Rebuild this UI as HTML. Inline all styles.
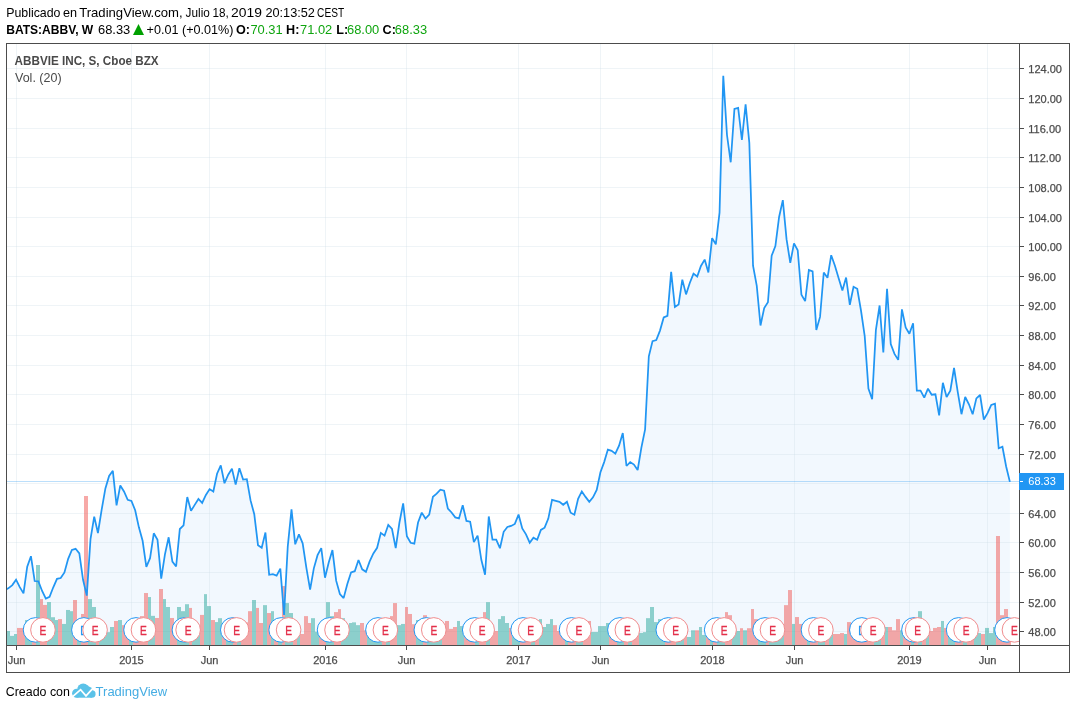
<!DOCTYPE html>
<html><head><meta charset="utf-8"><title>ABBV chart</title>
<style>
html,body{margin:0;padding:0;background:#fff;}
body{width:1076px;height:709px;position:relative;overflow:hidden;font-family:"Liberation Sans",sans-serif;}
svg{display:block}
</style></head><body>
<svg width="1076" height="709" viewBox="0 0 1076 709" style="position:absolute;left:0;top:0">
<defs><clipPath id="pane"><rect x="7" y="44" width="1012" height="601"/></clipPath></defs>
<g clip-path="url(#pane)">
<polygon points="4.89,645 4.89,590 8.61,588.1 12.33,585.1 16.06,579.7 19.78,587.07 23.5,593.4 27.22,566.7 30.94,556.2 34.67,581 38.39,581.4 42.11,591 45.83,598.6 49.56,596.8 53.28,587.28 57,578.8 60.72,578 64.44,572.5 68.17,558.84 71.89,550 75.61,548.8 79.33,553.4 83.05,579.8 86.78,595.6 90.5,539.1 94.22,516.6 97.94,533 101.67,509.67 105.39,488.4 109.11,476 112.83,470.8 116.55,505.3 120.28,485.5 124,491.5 127.72,499.8 131.44,501 135.17,510.2 138.89,527.35 142.61,540.8 146.33,566.9 150.05,558.2 153.78,533.3 157.5,539.8 161.22,578.7 164.94,554.34 168.66,537.3 172.39,561.6 176.11,566.5 179.83,529 183.55,525.4 187.28,497 191,510.8 194.72,504.9 198.44,499 202.16,502.9 205.89,495 209.61,489.1 213.33,491.5 217.05,473.7 220.77,465.4 224.5,483.2 228.22,474.7 231.94,468.8 235.66,484.6 239.39,468.2 243.11,479.6 246.83,479.2 250.55,500.4 254.27,514.2 258,545.2 261.72,547.7 265.44,532.5 269.16,574.8 272.89,574.2 276.61,575.6 280.33,568.6 284.05,615 287.77,546.3 291.5,509.4 295.22,544.3 298.94,534.4 302.66,543.3 306.38,567.99 310.11,589.7 313.83,568.32 317.55,555.2 321.27,548.2 325,577.7 328.72,562.43 332.44,550.1 336.16,580.7 339.88,594.1 343.61,598.1 347.33,584.11 351.05,572.4 354.77,571.2 358.49,560 362.22,569.3 365.94,571.8 369.66,561.4 373.38,553.47 377.11,547.8 380.83,532.9 384.55,535.7 388.27,525 391.99,529 395.72,548.1 399.44,522.5 403.16,503.3 406.88,536.3 410.61,542.8 414.33,543.6 418.05,522.5 421.77,512.6 425.49,518.5 429.22,514.6 432.94,496.7 436.66,493.7 440.38,489.7 444.1,490.7 447.83,508.5 451.55,512.5 455.27,517.4 458.99,518.4 462.72,505.2 466.44,520.9 470.16,521.7 473.88,542.1 477.6,535.6 481.33,559.8 485.05,574.7 488.77,516.5 492.49,539.7 496.21,539.7 499.94,548.2 503.66,531.8 507.38,526.9 511.1,525.9 514.83,523.9 518.55,514.6 522.27,528.5 525.99,534.4 529.71,542.7 533.44,537.7 537.16,539.7 540.88,529.9 544.6,527.7 548.32,518.6 552.05,499.9 555.77,500.8 559.49,501.8 563.21,504.8 566.94,501.8 570.66,512.7 574.38,514.7 578.1,498.9 581.82,491.4 585.55,496.9 589.27,501.8 592.99,497.3 596.71,490 600.44,472.2 604.16,462.1 607.88,449.6 611.6,450.8 615.32,453.6 619.05,445.7 622.77,433 626.49,466 630.21,462.1 633.93,464.6 637.66,470 641.38,447.67 645.1,429.3 648.82,356.3 652.55,341.1 656.27,340.1 659.99,330.6 663.71,317.4 667.43,315.8 671.16,271.9 674.88,307 678.6,304.6 682.32,279.6 686.04,294.4 689.77,283.02 693.49,273.6 697.21,276.5 700.93,265.98 704.66,259.6 708.38,272.4 712.1,238.1 715.82,244.3 719.54,212.7 723.27,75.8 726.99,135 730.71,162.3 734.43,109 738.16,107.8 741.88,140 745.6,104.4 749.32,142.9 753.04,265.7 756.77,285.8 760.49,325.5 764.21,308 767.93,302.3 771.65,255.7 775.38,246 779.1,217 782.82,200.1 786.54,239.2 790.27,262.9 793.99,243.3 797.71,250.3 801.43,294.7 805.15,301.1 808.88,270 812.6,271.4 816.32,330 820.04,316.9 823.76,272.5 827.49,277.8 831.21,255.2 834.93,265.7 838.65,278.31 842.38,290.5 846.1,277.5 849.82,304.8 853.54,286.8 857.26,288.8 860.99,310.5 864.71,336.2 868.43,388.5 872.15,399.3 875.88,330.2 879.6,305.5 883.32,352.5 887.04,288.8 890.76,344.1 894.49,353.9 898.21,359.9 901.93,309.4 905.65,327.5 909.37,333.8 913.1,323.2 916.82,390.7 920.54,390.7 924.26,397.6 927.99,388.7 931.71,394.7 935.43,394.3 939.15,415.4 942.87,382.8 946.6,397 950.32,390.7 954.04,368 957.76,392.24 961.48,414.2 965.21,397 968.93,404.3 972.65,414.2 976.37,398.4 980.1,395 983.82,419.5 987.54,413.2 991.26,404.9 994.98,403.7 998.71,448.3 1002.43,446.8 1006.15,466.5 1009.87,481.9 1009.87,645" fill="#f2f8fe"/>
<line x1="7" x2="1019" y1="631.5" y2="631.5" stroke="#cadae3" stroke-opacity="0.3" stroke-width="1"/>
<line x1="7" x2="1019" y1="602.5" y2="602.5" stroke="#cadae3" stroke-opacity="0.3" stroke-width="1"/>
<line x1="7" x2="1019" y1="572.5" y2="572.5" stroke="#cadae3" stroke-opacity="0.3" stroke-width="1"/>
<line x1="7" x2="1019" y1="542.5" y2="542.5" stroke="#cadae3" stroke-opacity="0.3" stroke-width="1"/>
<line x1="7" x2="1019" y1="513.5" y2="513.5" stroke="#cadae3" stroke-opacity="0.3" stroke-width="1"/>
<line x1="7" x2="1019" y1="483.5" y2="483.5" stroke="#cadae3" stroke-opacity="0.3" stroke-width="1"/>
<line x1="7" x2="1019" y1="454.5" y2="454.5" stroke="#cadae3" stroke-opacity="0.3" stroke-width="1"/>
<line x1="7" x2="1019" y1="424.5" y2="424.5" stroke="#cadae3" stroke-opacity="0.3" stroke-width="1"/>
<line x1="7" x2="1019" y1="394.5" y2="394.5" stroke="#cadae3" stroke-opacity="0.3" stroke-width="1"/>
<line x1="7" x2="1019" y1="365.5" y2="365.5" stroke="#cadae3" stroke-opacity="0.3" stroke-width="1"/>
<line x1="7" x2="1019" y1="335.5" y2="335.5" stroke="#cadae3" stroke-opacity="0.3" stroke-width="1"/>
<line x1="7" x2="1019" y1="305.5" y2="305.5" stroke="#cadae3" stroke-opacity="0.3" stroke-width="1"/>
<line x1="7" x2="1019" y1="276.5" y2="276.5" stroke="#cadae3" stroke-opacity="0.3" stroke-width="1"/>
<line x1="7" x2="1019" y1="246.5" y2="246.5" stroke="#cadae3" stroke-opacity="0.3" stroke-width="1"/>
<line x1="7" x2="1019" y1="217.5" y2="217.5" stroke="#cadae3" stroke-opacity="0.3" stroke-width="1"/>
<line x1="7" x2="1019" y1="187.5" y2="187.5" stroke="#cadae3" stroke-opacity="0.3" stroke-width="1"/>
<line x1="7" x2="1019" y1="157.5" y2="157.5" stroke="#cadae3" stroke-opacity="0.3" stroke-width="1"/>
<line x1="7" x2="1019" y1="128.5" y2="128.5" stroke="#cadae3" stroke-opacity="0.3" stroke-width="1"/>
<line x1="7" x2="1019" y1="98.5" y2="98.5" stroke="#cadae3" stroke-opacity="0.3" stroke-width="1"/>
<line x1="7" x2="1019" y1="68.5" y2="68.5" stroke="#cadae3" stroke-opacity="0.3" stroke-width="1"/>
<line x1="16.5" x2="16.5" y1="44" y2="645" stroke="#cadae3" stroke-opacity="0.3" stroke-width="1"/>
<line x1="131.5" x2="131.5" y1="44" y2="645" stroke="#cadae3" stroke-opacity="0.3" stroke-width="1"/>
<line x1="209.5" x2="209.5" y1="44" y2="645" stroke="#cadae3" stroke-opacity="0.3" stroke-width="1"/>
<line x1="325.5" x2="325.5" y1="44" y2="645" stroke="#cadae3" stroke-opacity="0.3" stroke-width="1"/>
<line x1="406.5" x2="406.5" y1="44" y2="645" stroke="#cadae3" stroke-opacity="0.3" stroke-width="1"/>
<line x1="518.5" x2="518.5" y1="44" y2="645" stroke="#cadae3" stroke-opacity="0.3" stroke-width="1"/>
<line x1="600.5" x2="600.5" y1="44" y2="645" stroke="#cadae3" stroke-opacity="0.3" stroke-width="1"/>
<line x1="712.5" x2="712.5" y1="44" y2="645" stroke="#cadae3" stroke-opacity="0.3" stroke-width="1"/>
<line x1="794.5" x2="794.5" y1="44" y2="645" stroke="#cadae3" stroke-opacity="0.3" stroke-width="1"/>
<line x1="909.5" x2="909.5" y1="44" y2="645" stroke="#cadae3" stroke-opacity="0.3" stroke-width="1"/>
<line x1="987.5" x2="987.5" y1="44" y2="645" stroke="#cadae3" stroke-opacity="0.3" stroke-width="1"/>
<rect x="3" y="628" width="3" height="17" fill="#26a69a" fill-opacity="0.5"/>
<rect x="6" y="631.02" width="4" height="13.98" fill="#26a69a" fill-opacity="0.5"/>
<rect x="10" y="635.87" width="4" height="9.13" fill="#26a69a" fill-opacity="0.5"/>
<rect x="14" y="634" width="3" height="11" fill="#26a69a" fill-opacity="0.5"/>
<rect x="17" y="627.95" width="4" height="17.05" fill="#ef5350" fill-opacity="0.5"/>
<rect x="21" y="627.95" width="4" height="17.05" fill="#ef5350" fill-opacity="0.5"/>
<rect x="25" y="620.04" width="4" height="24.96" fill="#26a69a" fill-opacity="0.5"/>
<rect x="29" y="620.04" width="3" height="24.96" fill="#26a69a" fill-opacity="0.5"/>
<rect x="32" y="628" width="4" height="17" fill="#ef5350" fill-opacity="0.5"/>
<rect x="36" y="565" width="4" height="80" fill="#26a69a" fill-opacity="0.5"/>
<rect x="40" y="599.09" width="3" height="45.91" fill="#ef5350" fill-opacity="0.5"/>
<rect x="43" y="604.95" width="4" height="40.05" fill="#ef5350" fill-opacity="0.5"/>
<rect x="47" y="602.07" width="4" height="42.93" fill="#26a69a" fill-opacity="0.5"/>
<rect x="51" y="617.24" width="4" height="27.76" fill="#26a69a" fill-opacity="0.5"/>
<rect x="55" y="620.04" width="3" height="24.96" fill="#26a69a" fill-opacity="0.5"/>
<rect x="58" y="619.11" width="4" height="25.89" fill="#ef5350" fill-opacity="0.5"/>
<rect x="62" y="623.95" width="4" height="21.05" fill="#26a69a" fill-opacity="0.5"/>
<rect x="66" y="609.98" width="4" height="35.02" fill="#26a69a" fill-opacity="0.5"/>
<rect x="70" y="611.19" width="3" height="33.81" fill="#26a69a" fill-opacity="0.5"/>
<rect x="73" y="600.02" width="4" height="44.98" fill="#ef5350" fill-opacity="0.5"/>
<rect x="77" y="628" width="4" height="17" fill="#26a69a" fill-opacity="0.5"/>
<rect x="81" y="613.99" width="3" height="31.01" fill="#ef5350" fill-opacity="0.5"/>
<rect x="84" y="496" width="4" height="149" fill="#ef5350" fill-opacity="0.5"/>
<rect x="88" y="599.09" width="4" height="45.91" fill="#26a69a" fill-opacity="0.5"/>
<rect x="92" y="607" width="4" height="38" fill="#26a69a" fill-opacity="0.5"/>
<rect x="96" y="628" width="3" height="17" fill="#ef5350" fill-opacity="0.5"/>
<rect x="99" y="628" width="4" height="17" fill="#26a69a" fill-opacity="0.5"/>
<rect x="103" y="628" width="4" height="17" fill="#26a69a" fill-opacity="0.5"/>
<rect x="107" y="632.14" width="3" height="12.86" fill="#26a69a" fill-opacity="0.5"/>
<rect x="110" y="627.02" width="4" height="17.98" fill="#26a69a" fill-opacity="0.5"/>
<rect x="114" y="620.97" width="4" height="24.03" fill="#ef5350" fill-opacity="0.5"/>
<rect x="118" y="620.04" width="4" height="24.96" fill="#26a69a" fill-opacity="0.5"/>
<rect x="122" y="625.16" width="3" height="19.84" fill="#ef5350" fill-opacity="0.5"/>
<rect x="125" y="628" width="4" height="17" fill="#ef5350" fill-opacity="0.5"/>
<rect x="129" y="628" width="4" height="17" fill="#26a69a" fill-opacity="0.5"/>
<rect x="133" y="628" width="4" height="17" fill="#ef5350" fill-opacity="0.5"/>
<rect x="137" y="628" width="3" height="17" fill="#ef5350" fill-opacity="0.5"/>
<rect x="140" y="616.13" width="4" height="28.87" fill="#ef5350" fill-opacity="0.5"/>
<rect x="144" y="593.04" width="4" height="51.96" fill="#ef5350" fill-opacity="0.5"/>
<rect x="148" y="597.04" width="3" height="47.96" fill="#26a69a" fill-opacity="0.5"/>
<rect x="151" y="615.85" width="4" height="29.15" fill="#26a69a" fill-opacity="0.5"/>
<rect x="155" y="617.99" width="4" height="27.01" fill="#ef5350" fill-opacity="0.5"/>
<rect x="159" y="589.03" width="4" height="55.97" fill="#ef5350" fill-opacity="0.5"/>
<rect x="163" y="599.09" width="3" height="45.91" fill="#26a69a" fill-opacity="0.5"/>
<rect x="166" y="607" width="4" height="38" fill="#26a69a" fill-opacity="0.5"/>
<rect x="170" y="617.99" width="4" height="27.01" fill="#ef5350" fill-opacity="0.5"/>
<rect x="174" y="628" width="3" height="17" fill="#ef5350" fill-opacity="0.5"/>
<rect x="177" y="607" width="4" height="38" fill="#26a69a" fill-opacity="0.5"/>
<rect x="181" y="611.19" width="4" height="33.81" fill="#26a69a" fill-opacity="0.5"/>
<rect x="185" y="604.21" width="4" height="40.79" fill="#26a69a" fill-opacity="0.5"/>
<rect x="189" y="607.93" width="3" height="37.07" fill="#ef5350" fill-opacity="0.5"/>
<rect x="192" y="628" width="4" height="17" fill="#26a69a" fill-opacity="0.5"/>
<rect x="196" y="628" width="4" height="17" fill="#26a69a" fill-opacity="0.5"/>
<rect x="200" y="614.92" width="4" height="30.08" fill="#ef5350" fill-opacity="0.5"/>
<rect x="204" y="594.15" width="3" height="50.85" fill="#26a69a" fill-opacity="0.5"/>
<rect x="207" y="606.07" width="4" height="38.93" fill="#26a69a" fill-opacity="0.5"/>
<rect x="211" y="620.04" width="4" height="24.96" fill="#ef5350" fill-opacity="0.5"/>
<rect x="215" y="622.09" width="3" height="22.91" fill="#26a69a" fill-opacity="0.5"/>
<rect x="218" y="618.18" width="4" height="26.82" fill="#26a69a" fill-opacity="0.5"/>
<rect x="222" y="628" width="4" height="17" fill="#ef5350" fill-opacity="0.5"/>
<rect x="226" y="628" width="4" height="17" fill="#26a69a" fill-opacity="0.5"/>
<rect x="230" y="628" width="3" height="17" fill="#26a69a" fill-opacity="0.5"/>
<rect x="233" y="628" width="4" height="17" fill="#ef5350" fill-opacity="0.5"/>
<rect x="237" y="628" width="4" height="17" fill="#26a69a" fill-opacity="0.5"/>
<rect x="241" y="622.36" width="3" height="22.64" fill="#ef5350" fill-opacity="0.5"/>
<rect x="244" y="622.36" width="4" height="22.64" fill="#ef5350" fill-opacity="0.5"/>
<rect x="248" y="611.19" width="4" height="33.81" fill="#ef5350" fill-opacity="0.5"/>
<rect x="252" y="600.02" width="4" height="44.98" fill="#26a69a" fill-opacity="0.5"/>
<rect x="256" y="607.93" width="3" height="37.07" fill="#ef5350" fill-opacity="0.5"/>
<rect x="259" y="623.02" width="4" height="21.98" fill="#ef5350" fill-opacity="0.5"/>
<rect x="263" y="605.14" width="4" height="39.86" fill="#26a69a" fill-opacity="0.5"/>
<rect x="267" y="613.05" width="4" height="31.95" fill="#ef5350" fill-opacity="0.5"/>
<rect x="271" y="611.19" width="3" height="33.81" fill="#26a69a" fill-opacity="0.5"/>
<rect x="274" y="628" width="4" height="17" fill="#ef5350" fill-opacity="0.5"/>
<rect x="278" y="628" width="4" height="17" fill="#26a69a" fill-opacity="0.5"/>
<rect x="282" y="586.05" width="3" height="58.95" fill="#ef5350" fill-opacity="0.5"/>
<rect x="285" y="603.09" width="4" height="41.91" fill="#26a69a" fill-opacity="0.5"/>
<rect x="289" y="613.05" width="4" height="31.95" fill="#26a69a" fill-opacity="0.5"/>
<rect x="293" y="628" width="4" height="17" fill="#ef5350" fill-opacity="0.5"/>
<rect x="297" y="628" width="3" height="17" fill="#26a69a" fill-opacity="0.5"/>
<rect x="300" y="634" width="4" height="11" fill="#ef5350" fill-opacity="0.5"/>
<rect x="304" y="616.13" width="4" height="28.87" fill="#ef5350" fill-opacity="0.5"/>
<rect x="308" y="623.02" width="3" height="21.98" fill="#ef5350" fill-opacity="0.5"/>
<rect x="311" y="618.18" width="4" height="26.82" fill="#26a69a" fill-opacity="0.5"/>
<rect x="315" y="631.68" width="4" height="13.32" fill="#26a69a" fill-opacity="0.5"/>
<rect x="319" y="628" width="4" height="17" fill="#ef5350" fill-opacity="0.5"/>
<rect x="323" y="628" width="3" height="17" fill="#ef5350" fill-opacity="0.5"/>
<rect x="326" y="602.16" width="4" height="42.84" fill="#26a69a" fill-opacity="0.5"/>
<rect x="330" y="616.13" width="4" height="28.87" fill="#26a69a" fill-opacity="0.5"/>
<rect x="334" y="612.12" width="4" height="32.88" fill="#ef5350" fill-opacity="0.5"/>
<rect x="338" y="609.14" width="3" height="35.86" fill="#ef5350" fill-opacity="0.5"/>
<rect x="341" y="618.18" width="4" height="26.82" fill="#26a69a" fill-opacity="0.5"/>
<rect x="345" y="628" width="4" height="17" fill="#26a69a" fill-opacity="0.5"/>
<rect x="349" y="623.02" width="3" height="21.98" fill="#26a69a" fill-opacity="0.5"/>
<rect x="352" y="622.36" width="4" height="22.64" fill="#26a69a" fill-opacity="0.5"/>
<rect x="356" y="625.16" width="4" height="19.84" fill="#26a69a" fill-opacity="0.5"/>
<rect x="360" y="623.02" width="4" height="21.98" fill="#ef5350" fill-opacity="0.5"/>
<rect x="364" y="630.28" width="3" height="14.72" fill="#ef5350" fill-opacity="0.5"/>
<rect x="367" y="628" width="4" height="17" fill="#26a69a" fill-opacity="0.5"/>
<rect x="371" y="628" width="4" height="17" fill="#26a69a" fill-opacity="0.5"/>
<rect x="375" y="628" width="3" height="17" fill="#26a69a" fill-opacity="0.5"/>
<rect x="378" y="628" width="4" height="17" fill="#26a69a" fill-opacity="0.5"/>
<rect x="382" y="628" width="4" height="17" fill="#ef5350" fill-opacity="0.5"/>
<rect x="386" y="628" width="4" height="17" fill="#26a69a" fill-opacity="0.5"/>
<rect x="390" y="616.13" width="3" height="28.87" fill="#ef5350" fill-opacity="0.5"/>
<rect x="393" y="603.09" width="4" height="41.91" fill="#ef5350" fill-opacity="0.5"/>
<rect x="397" y="625.16" width="4" height="19.84" fill="#26a69a" fill-opacity="0.5"/>
<rect x="401" y="623.95" width="4" height="21.05" fill="#26a69a" fill-opacity="0.5"/>
<rect x="405" y="607" width="3" height="38" fill="#ef5350" fill-opacity="0.5"/>
<rect x="408" y="613.99" width="4" height="31.01" fill="#ef5350" fill-opacity="0.5"/>
<rect x="412" y="624.23" width="4" height="20.77" fill="#ef5350" fill-opacity="0.5"/>
<rect x="416" y="620.04" width="3" height="24.96" fill="#26a69a" fill-opacity="0.5"/>
<rect x="419" y="628" width="4" height="17" fill="#26a69a" fill-opacity="0.5"/>
<rect x="423" y="615.2" width="4" height="29.8" fill="#ef5350" fill-opacity="0.5"/>
<rect x="427" y="628" width="4" height="17" fill="#26a69a" fill-opacity="0.5"/>
<rect x="431" y="628" width="3" height="17" fill="#26a69a" fill-opacity="0.5"/>
<rect x="434" y="628" width="4" height="17" fill="#26a69a" fill-opacity="0.5"/>
<rect x="438" y="628" width="4" height="17" fill="#26a69a" fill-opacity="0.5"/>
<rect x="442" y="632.14" width="3" height="12.86" fill="#ef5350" fill-opacity="0.5"/>
<rect x="445" y="620.97" width="4" height="24.03" fill="#ef5350" fill-opacity="0.5"/>
<rect x="449" y="628.88" width="4" height="16.12" fill="#ef5350" fill-opacity="0.5"/>
<rect x="453" y="627.02" width="4" height="17.98" fill="#ef5350" fill-opacity="0.5"/>
<rect x="457" y="620.97" width="3" height="24.03" fill="#26a69a" fill-opacity="0.5"/>
<rect x="460" y="626.09" width="4" height="18.91" fill="#26a69a" fill-opacity="0.5"/>
<rect x="464" y="628" width="4" height="17" fill="#ef5350" fill-opacity="0.5"/>
<rect x="468" y="628" width="4" height="17" fill="#ef5350" fill-opacity="0.5"/>
<rect x="472" y="628" width="3" height="17" fill="#ef5350" fill-opacity="0.5"/>
<rect x="475" y="628" width="4" height="17" fill="#26a69a" fill-opacity="0.5"/>
<rect x="479" y="628" width="4" height="17" fill="#ef5350" fill-opacity="0.5"/>
<rect x="483" y="612.12" width="3" height="32.88" fill="#ef5350" fill-opacity="0.5"/>
<rect x="486" y="602.16" width="4" height="42.84" fill="#26a69a" fill-opacity="0.5"/>
<rect x="490" y="631.02" width="4" height="13.98" fill="#ef5350" fill-opacity="0.5"/>
<rect x="494" y="631.02" width="4" height="13.98" fill="#ef5350" fill-opacity="0.5"/>
<rect x="498" y="619.11" width="3" height="25.89" fill="#26a69a" fill-opacity="0.5"/>
<rect x="501" y="616.13" width="4" height="28.87" fill="#26a69a" fill-opacity="0.5"/>
<rect x="505" y="623.02" width="4" height="21.98" fill="#26a69a" fill-opacity="0.5"/>
<rect x="509" y="627.95" width="3" height="17.05" fill="#ef5350" fill-opacity="0.5"/>
<rect x="512" y="628" width="4" height="17" fill="#26a69a" fill-opacity="0.5"/>
<rect x="516" y="628" width="4" height="17" fill="#26a69a" fill-opacity="0.5"/>
<rect x="520" y="628" width="4" height="17" fill="#ef5350" fill-opacity="0.5"/>
<rect x="524" y="628" width="3" height="17" fill="#ef5350" fill-opacity="0.5"/>
<rect x="527" y="628" width="4" height="17" fill="#ef5350" fill-opacity="0.5"/>
<rect x="531" y="628" width="4" height="17" fill="#26a69a" fill-opacity="0.5"/>
<rect x="535" y="628" width="4" height="17" fill="#ef5350" fill-opacity="0.5"/>
<rect x="539" y="619.11" width="3" height="25.89" fill="#26a69a" fill-opacity="0.5"/>
<rect x="542" y="627.02" width="4" height="17.98" fill="#26a69a" fill-opacity="0.5"/>
<rect x="546" y="623.95" width="4" height="21.05" fill="#26a69a" fill-opacity="0.5"/>
<rect x="550" y="619.11" width="3" height="25.89" fill="#26a69a" fill-opacity="0.5"/>
<rect x="553" y="625.16" width="4" height="19.84" fill="#ef5350" fill-opacity="0.5"/>
<rect x="557" y="631.02" width="4" height="13.98" fill="#ef5350" fill-opacity="0.5"/>
<rect x="561" y="631.02" width="4" height="13.98" fill="#ef5350" fill-opacity="0.5"/>
<rect x="565" y="628" width="3" height="17" fill="#26a69a" fill-opacity="0.5"/>
<rect x="568" y="628" width="4" height="17" fill="#ef5350" fill-opacity="0.5"/>
<rect x="572" y="628" width="4" height="17" fill="#ef5350" fill-opacity="0.5"/>
<rect x="576" y="628" width="3" height="17" fill="#26a69a" fill-opacity="0.5"/>
<rect x="579" y="628" width="4" height="17" fill="#26a69a" fill-opacity="0.5"/>
<rect x="583" y="620.97" width="4" height="24.03" fill="#ef5350" fill-opacity="0.5"/>
<rect x="587" y="620.97" width="4" height="24.03" fill="#ef5350" fill-opacity="0.5"/>
<rect x="591" y="631.96" width="3" height="13.04" fill="#26a69a" fill-opacity="0.5"/>
<rect x="594" y="631.96" width="4" height="13.04" fill="#26a69a" fill-opacity="0.5"/>
<rect x="598" y="626.09" width="4" height="18.91" fill="#26a69a" fill-opacity="0.5"/>
<rect x="602" y="626.09" width="4" height="18.91" fill="#26a69a" fill-opacity="0.5"/>
<rect x="606" y="623.02" width="3" height="21.98" fill="#26a69a" fill-opacity="0.5"/>
<rect x="609" y="628" width="4" height="17" fill="#ef5350" fill-opacity="0.5"/>
<rect x="613" y="628" width="4" height="17" fill="#ef5350" fill-opacity="0.5"/>
<rect x="617" y="628" width="3" height="17" fill="#26a69a" fill-opacity="0.5"/>
<rect x="620" y="628" width="4" height="17" fill="#26a69a" fill-opacity="0.5"/>
<rect x="624" y="628" width="4" height="17" fill="#ef5350" fill-opacity="0.5"/>
<rect x="628" y="628" width="4" height="17" fill="#26a69a" fill-opacity="0.5"/>
<rect x="632" y="628" width="3" height="17" fill="#ef5350" fill-opacity="0.5"/>
<rect x="635" y="628" width="4" height="17" fill="#ef5350" fill-opacity="0.5"/>
<rect x="639" y="632.89" width="4" height="12.11" fill="#26a69a" fill-opacity="0.5"/>
<rect x="643" y="632.14" width="3" height="12.86" fill="#26a69a" fill-opacity="0.5"/>
<rect x="646" y="618.18" width="4" height="26.82" fill="#26a69a" fill-opacity="0.5"/>
<rect x="650" y="607" width="4" height="38" fill="#26a69a" fill-opacity="0.5"/>
<rect x="654" y="622.09" width="4" height="22.91" fill="#26a69a" fill-opacity="0.5"/>
<rect x="658" y="619.11" width="3" height="25.89" fill="#26a69a" fill-opacity="0.5"/>
<rect x="661" y="619.11" width="4" height="25.89" fill="#26a69a" fill-opacity="0.5"/>
<rect x="665" y="628" width="4" height="17" fill="#ef5350" fill-opacity="0.5"/>
<rect x="669" y="628" width="4" height="17" fill="#ef5350" fill-opacity="0.5"/>
<rect x="673" y="628" width="3" height="17" fill="#ef5350" fill-opacity="0.5"/>
<rect x="676" y="628" width="4" height="17" fill="#26a69a" fill-opacity="0.5"/>
<rect x="680" y="628" width="4" height="17" fill="#26a69a" fill-opacity="0.5"/>
<rect x="684" y="628" width="3" height="17" fill="#ef5350" fill-opacity="0.5"/>
<rect x="687" y="636.98" width="4" height="8.02" fill="#26a69a" fill-opacity="0.5"/>
<rect x="691" y="630.28" width="4" height="14.72" fill="#26a69a" fill-opacity="0.5"/>
<rect x="695" y="630.28" width="4" height="14.72" fill="#ef5350" fill-opacity="0.5"/>
<rect x="699" y="627.02" width="3" height="17.98" fill="#26a69a" fill-opacity="0.5"/>
<rect x="702" y="634.93" width="4" height="10.07" fill="#26a69a" fill-opacity="0.5"/>
<rect x="706" y="628" width="4" height="17" fill="#ef5350" fill-opacity="0.5"/>
<rect x="710" y="628" width="3" height="17" fill="#26a69a" fill-opacity="0.5"/>
<rect x="713" y="628" width="4" height="17" fill="#ef5350" fill-opacity="0.5"/>
<rect x="717" y="628" width="4" height="17" fill="#26a69a" fill-opacity="0.5"/>
<rect x="721" y="628" width="4" height="17" fill="#26a69a" fill-opacity="0.5"/>
<rect x="725" y="612.12" width="3" height="32.88" fill="#ef5350" fill-opacity="0.5"/>
<rect x="728" y="615.2" width="4" height="29.8" fill="#ef5350" fill-opacity="0.5"/>
<rect x="732" y="631.02" width="4" height="13.98" fill="#26a69a" fill-opacity="0.5"/>
<rect x="736" y="631.02" width="4" height="13.98" fill="#26a69a" fill-opacity="0.5"/>
<rect x="740" y="628.23" width="3" height="16.77" fill="#ef5350" fill-opacity="0.5"/>
<rect x="743" y="630.28" width="4" height="14.72" fill="#26a69a" fill-opacity="0.5"/>
<rect x="747" y="628.23" width="4" height="16.77" fill="#ef5350" fill-opacity="0.5"/>
<rect x="751" y="609.05" width="3" height="35.95" fill="#ef5350" fill-opacity="0.5"/>
<rect x="754" y="619.11" width="4" height="25.89" fill="#ef5350" fill-opacity="0.5"/>
<rect x="758" y="628" width="4" height="17" fill="#26a69a" fill-opacity="0.5"/>
<rect x="762" y="628" width="4" height="17" fill="#26a69a" fill-opacity="0.5"/>
<rect x="766" y="628" width="3" height="17" fill="#ef5350" fill-opacity="0.5"/>
<rect x="769" y="628" width="4" height="17" fill="#26a69a" fill-opacity="0.5"/>
<rect x="773" y="628" width="4" height="17" fill="#26a69a" fill-opacity="0.5"/>
<rect x="777" y="628" width="3" height="17" fill="#26a69a" fill-opacity="0.5"/>
<rect x="780" y="628" width="4" height="17" fill="#26a69a" fill-opacity="0.5"/>
<rect x="784" y="605.14" width="4" height="39.86" fill="#ef5350" fill-opacity="0.5"/>
<rect x="788" y="590.06" width="4" height="54.94" fill="#ef5350" fill-opacity="0.5"/>
<rect x="792" y="623.95" width="3" height="21.05" fill="#26a69a" fill-opacity="0.5"/>
<rect x="795" y="617.06" width="4" height="27.94" fill="#ef5350" fill-opacity="0.5"/>
<rect x="799" y="623.95" width="4" height="21.05" fill="#ef5350" fill-opacity="0.5"/>
<rect x="803" y="623.95" width="4" height="21.05" fill="#ef5350" fill-opacity="0.5"/>
<rect x="807" y="628" width="3" height="17" fill="#26a69a" fill-opacity="0.5"/>
<rect x="810" y="628" width="4" height="17" fill="#ef5350" fill-opacity="0.5"/>
<rect x="814" y="628" width="4" height="17" fill="#ef5350" fill-opacity="0.5"/>
<rect x="818" y="628" width="3" height="17" fill="#26a69a" fill-opacity="0.5"/>
<rect x="821" y="628" width="4" height="17" fill="#26a69a" fill-opacity="0.5"/>
<rect x="825" y="628" width="4" height="17" fill="#ef5350" fill-opacity="0.5"/>
<rect x="829" y="628" width="4" height="17" fill="#26a69a" fill-opacity="0.5"/>
<rect x="833" y="634" width="3" height="11" fill="#ef5350" fill-opacity="0.5"/>
<rect x="836" y="634" width="4" height="11" fill="#ef5350" fill-opacity="0.5"/>
<rect x="840" y="633.07" width="4" height="11.93" fill="#ef5350" fill-opacity="0.5"/>
<rect x="844" y="634" width="3" height="11" fill="#26a69a" fill-opacity="0.5"/>
<rect x="847" y="622.09" width="4" height="22.91" fill="#ef5350" fill-opacity="0.5"/>
<rect x="851" y="628" width="4" height="17" fill="#ef5350" fill-opacity="0.5"/>
<rect x="855" y="628" width="4" height="17" fill="#ef5350" fill-opacity="0.5"/>
<rect x="859" y="628" width="3" height="17" fill="#ef5350" fill-opacity="0.5"/>
<rect x="862" y="628" width="4" height="17" fill="#ef5350" fill-opacity="0.5"/>
<rect x="866" y="628" width="4" height="17" fill="#ef5350" fill-opacity="0.5"/>
<rect x="870" y="628" width="4" height="17" fill="#ef5350" fill-opacity="0.5"/>
<rect x="874" y="628" width="3" height="17" fill="#26a69a" fill-opacity="0.5"/>
<rect x="877" y="628" width="4" height="17" fill="#26a69a" fill-opacity="0.5"/>
<rect x="881" y="628" width="4" height="17" fill="#ef5350" fill-opacity="0.5"/>
<rect x="885" y="627.02" width="3" height="17.98" fill="#26a69a" fill-opacity="0.5"/>
<rect x="888" y="627.02" width="4" height="17.98" fill="#ef5350" fill-opacity="0.5"/>
<rect x="892" y="630.28" width="4" height="14.72" fill="#ef5350" fill-opacity="0.5"/>
<rect x="896" y="619.11" width="4" height="25.89" fill="#ef5350" fill-opacity="0.5"/>
<rect x="900" y="630.28" width="3" height="14.72" fill="#26a69a" fill-opacity="0.5"/>
<rect x="903" y="628" width="4" height="17" fill="#ef5350" fill-opacity="0.5"/>
<rect x="907" y="628" width="4" height="17" fill="#ef5350" fill-opacity="0.5"/>
<rect x="911" y="628" width="3" height="17" fill="#26a69a" fill-opacity="0.5"/>
<rect x="914" y="628" width="4" height="17" fill="#ef5350" fill-opacity="0.5"/>
<rect x="918" y="611.19" width="4" height="33.81" fill="#26a69a" fill-opacity="0.5"/>
<rect x="922" y="628" width="4" height="17" fill="#ef5350" fill-opacity="0.5"/>
<rect x="926" y="628" width="3" height="17" fill="#26a69a" fill-opacity="0.5"/>
<rect x="929" y="631.02" width="4" height="13.98" fill="#ef5350" fill-opacity="0.5"/>
<rect x="933" y="627.95" width="4" height="17.05" fill="#ef5350" fill-opacity="0.5"/>
<rect x="937" y="627.02" width="4" height="17.98" fill="#ef5350" fill-opacity="0.5"/>
<rect x="941" y="620.97" width="3" height="24.03" fill="#26a69a" fill-opacity="0.5"/>
<rect x="944" y="627.95" width="4" height="17.05" fill="#ef5350" fill-opacity="0.5"/>
<rect x="948" y="628" width="4" height="17" fill="#26a69a" fill-opacity="0.5"/>
<rect x="952" y="628" width="3" height="17" fill="#26a69a" fill-opacity="0.5"/>
<rect x="955" y="628" width="4" height="17" fill="#ef5350" fill-opacity="0.5"/>
<rect x="959" y="628" width="4" height="17" fill="#ef5350" fill-opacity="0.5"/>
<rect x="963" y="628" width="4" height="17" fill="#26a69a" fill-opacity="0.5"/>
<rect x="967" y="628" width="3" height="17" fill="#ef5350" fill-opacity="0.5"/>
<rect x="970" y="628" width="4" height="17" fill="#ef5350" fill-opacity="0.5"/>
<rect x="974" y="633.07" width="4" height="11.93" fill="#26a69a" fill-opacity="0.5"/>
<rect x="978" y="633.07" width="3" height="11.93" fill="#26a69a" fill-opacity="0.5"/>
<rect x="981" y="634" width="4" height="11" fill="#ef5350" fill-opacity="0.5"/>
<rect x="985" y="627.95" width="4" height="17.05" fill="#26a69a" fill-opacity="0.5"/>
<rect x="989" y="633.07" width="4" height="11.93" fill="#26a69a" fill-opacity="0.5"/>
<rect x="993" y="627.02" width="3" height="17.98" fill="#26a69a" fill-opacity="0.5"/>
<rect x="996" y="536" width="4" height="109" fill="#ef5350" fill-opacity="0.5"/>
<rect x="1000" y="615.2" width="4" height="29.8" fill="#ef5350" fill-opacity="0.5"/>
<rect x="1004" y="609.05" width="4" height="35.95" fill="#ef5350" fill-opacity="0.5"/>
<rect x="1008" y="628" width="3" height="17" fill="#ef5350" fill-opacity="0.5"/>
<line x1="7" x2="1019" y1="481.5" y2="481.5" stroke="#2196f3" stroke-opacity="0.3" stroke-width="1"/>
<polyline points="4.89,590 8.61,588.1 12.33,585.1 16.06,579.7 19.78,587.07 23.5,593.4 27.22,566.7 30.94,556.2 34.67,581 38.39,581.4 42.11,591 45.83,598.6 49.56,596.8 53.28,587.28 57,578.8 60.72,578 64.44,572.5 68.17,558.84 71.89,550 75.61,548.8 79.33,553.4 83.05,579.8 86.78,595.6 90.5,539.1 94.22,516.6 97.94,533 101.67,509.67 105.39,488.4 109.11,476 112.83,470.8 116.55,505.3 120.28,485.5 124,491.5 127.72,499.8 131.44,501 135.17,510.2 138.89,527.35 142.61,540.8 146.33,566.9 150.05,558.2 153.78,533.3 157.5,539.8 161.22,578.7 164.94,554.34 168.66,537.3 172.39,561.6 176.11,566.5 179.83,529 183.55,525.4 187.28,497 191,510.8 194.72,504.9 198.44,499 202.16,502.9 205.89,495 209.61,489.1 213.33,491.5 217.05,473.7 220.77,465.4 224.5,483.2 228.22,474.7 231.94,468.8 235.66,484.6 239.39,468.2 243.11,479.6 246.83,479.2 250.55,500.4 254.27,514.2 258,545.2 261.72,547.7 265.44,532.5 269.16,574.8 272.89,574.2 276.61,575.6 280.33,568.6 284.05,615 287.77,546.3 291.5,509.4 295.22,544.3 298.94,534.4 302.66,543.3 306.38,567.99 310.11,589.7 313.83,568.32 317.55,555.2 321.27,548.2 325,577.7 328.72,562.43 332.44,550.1 336.16,580.7 339.88,594.1 343.61,598.1 347.33,584.11 351.05,572.4 354.77,571.2 358.49,560 362.22,569.3 365.94,571.8 369.66,561.4 373.38,553.47 377.11,547.8 380.83,532.9 384.55,535.7 388.27,525 391.99,529 395.72,548.1 399.44,522.5 403.16,503.3 406.88,536.3 410.61,542.8 414.33,543.6 418.05,522.5 421.77,512.6 425.49,518.5 429.22,514.6 432.94,496.7 436.66,493.7 440.38,489.7 444.1,490.7 447.83,508.5 451.55,512.5 455.27,517.4 458.99,518.4 462.72,505.2 466.44,520.9 470.16,521.7 473.88,542.1 477.6,535.6 481.33,559.8 485.05,574.7 488.77,516.5 492.49,539.7 496.21,539.7 499.94,548.2 503.66,531.8 507.38,526.9 511.1,525.9 514.83,523.9 518.55,514.6 522.27,528.5 525.99,534.4 529.71,542.7 533.44,537.7 537.16,539.7 540.88,529.9 544.6,527.7 548.32,518.6 552.05,499.9 555.77,500.8 559.49,501.8 563.21,504.8 566.94,501.8 570.66,512.7 574.38,514.7 578.1,498.9 581.82,491.4 585.55,496.9 589.27,501.8 592.99,497.3 596.71,490 600.44,472.2 604.16,462.1 607.88,449.6 611.6,450.8 615.32,453.6 619.05,445.7 622.77,433 626.49,466 630.21,462.1 633.93,464.6 637.66,470 641.38,447.67 645.1,429.3 648.82,356.3 652.55,341.1 656.27,340.1 659.99,330.6 663.71,317.4 667.43,315.8 671.16,271.9 674.88,307 678.6,304.6 682.32,279.6 686.04,294.4 689.77,283.02 693.49,273.6 697.21,276.5 700.93,265.98 704.66,259.6 708.38,272.4 712.1,238.1 715.82,244.3 719.54,212.7 723.27,75.8 726.99,135 730.71,162.3 734.43,109 738.16,107.8 741.88,140 745.6,104.4 749.32,142.9 753.04,265.7 756.77,285.8 760.49,325.5 764.21,308 767.93,302.3 771.65,255.7 775.38,246 779.1,217 782.82,200.1 786.54,239.2 790.27,262.9 793.99,243.3 797.71,250.3 801.43,294.7 805.15,301.1 808.88,270 812.6,271.4 816.32,330 820.04,316.9 823.76,272.5 827.49,277.8 831.21,255.2 834.93,265.7 838.65,278.31 842.38,290.5 846.1,277.5 849.82,304.8 853.54,286.8 857.26,288.8 860.99,310.5 864.71,336.2 868.43,388.5 872.15,399.3 875.88,330.2 879.6,305.5 883.32,352.5 887.04,288.8 890.76,344.1 894.49,353.9 898.21,359.9 901.93,309.4 905.65,327.5 909.37,333.8 913.1,323.2 916.82,390.7 920.54,390.7 924.26,397.6 927.99,388.7 931.71,394.7 935.43,394.3 939.15,415.4 942.87,382.8 946.6,397 950.32,390.7 954.04,368 957.76,392.24 961.48,414.2 965.21,397 968.93,404.3 972.65,414.2 976.37,398.4 980.1,395 983.82,419.5 987.54,413.2 991.26,404.9 994.98,403.7 998.71,448.3 1002.43,446.8 1006.15,466.5 1009.87,481.9" fill="none" stroke="#2196f3" stroke-width="1.75" stroke-linejoin="miter" stroke-miterlimit="2"/>
<circle cx="35.52" cy="629.9" r="12.3" fill="#fff" stroke="#2196f3" stroke-width="1"/>
<text transform="translate(35.52,634.85) scale(0.78,1)" text-anchor="middle" font-family="Liberation Sans, sans-serif" font-size="13" fill="#2196f3" stroke="#2196f3" stroke-width="0.35">D</text>
<circle cx="42.96" cy="629.9" r="12.3" fill="#fff" stroke="#f08c8e" stroke-width="1"/>
<text transform="translate(42.96,634.85) scale(0.78,1)" text-anchor="middle" font-family="Liberation Sans, sans-serif" font-size="13" fill="#e3304a" stroke="#e3304a" stroke-width="0.35">E</text>
<circle cx="83.9" cy="629.9" r="12.3" fill="#fff" stroke="#2196f3" stroke-width="1"/>
<text transform="translate(83.9,634.85) scale(0.78,1)" text-anchor="middle" font-family="Liberation Sans, sans-serif" font-size="13" fill="#2196f3" stroke="#2196f3" stroke-width="0.35">D</text>
<circle cx="95.07" cy="629.9" r="12.3" fill="#fff" stroke="#f08c8e" stroke-width="1"/>
<text transform="translate(95.07,634.85) scale(0.78,1)" text-anchor="middle" font-family="Liberation Sans, sans-serif" font-size="13" fill="#e3304a" stroke="#e3304a" stroke-width="0.35">E</text>
<circle cx="136.02" cy="629.9" r="12.3" fill="#fff" stroke="#2196f3" stroke-width="1"/>
<text transform="translate(136.02,634.85) scale(0.78,1)" text-anchor="middle" font-family="Liberation Sans, sans-serif" font-size="13" fill="#2196f3" stroke="#2196f3" stroke-width="0.35">D</text>
<circle cx="143.46" cy="629.9" r="12.3" fill="#fff" stroke="#f08c8e" stroke-width="1"/>
<text transform="translate(143.46,634.85) scale(0.78,1)" text-anchor="middle" font-family="Liberation Sans, sans-serif" font-size="13" fill="#e3304a" stroke="#e3304a" stroke-width="0.35">E</text>
<circle cx="184.4" cy="629.9" r="12.3" fill="#fff" stroke="#2196f3" stroke-width="1"/>
<text transform="translate(184.4,634.85) scale(0.78,1)" text-anchor="middle" font-family="Liberation Sans, sans-serif" font-size="13" fill="#2196f3" stroke="#2196f3" stroke-width="0.35">D</text>
<circle cx="188.13" cy="629.9" r="12.3" fill="#fff" stroke="#f08c8e" stroke-width="1"/>
<text transform="translate(188.13,634.85) scale(0.78,1)" text-anchor="middle" font-family="Liberation Sans, sans-serif" font-size="13" fill="#e3304a" stroke="#e3304a" stroke-width="0.35">E</text>
<circle cx="232.79" cy="629.9" r="12.3" fill="#fff" stroke="#2196f3" stroke-width="1"/>
<text transform="translate(232.79,634.85) scale(0.78,1)" text-anchor="middle" font-family="Liberation Sans, sans-serif" font-size="13" fill="#2196f3" stroke="#2196f3" stroke-width="0.35">D</text>
<circle cx="236.51" cy="629.9" r="12.3" fill="#fff" stroke="#f08c8e" stroke-width="1"/>
<text transform="translate(236.51,634.85) scale(0.78,1)" text-anchor="middle" font-family="Liberation Sans, sans-serif" font-size="13" fill="#e3304a" stroke="#e3304a" stroke-width="0.35">E</text>
<circle cx="281.18" cy="629.9" r="12.3" fill="#fff" stroke="#2196f3" stroke-width="1"/>
<text transform="translate(281.18,634.85) scale(0.78,1)" text-anchor="middle" font-family="Liberation Sans, sans-serif" font-size="13" fill="#2196f3" stroke="#2196f3" stroke-width="0.35">D</text>
<circle cx="288.62" cy="629.9" r="12.3" fill="#fff" stroke="#f08c8e" stroke-width="1"/>
<text transform="translate(288.62,634.85) scale(0.78,1)" text-anchor="middle" font-family="Liberation Sans, sans-serif" font-size="13" fill="#e3304a" stroke="#e3304a" stroke-width="0.35">E</text>
<circle cx="329.57" cy="629.9" r="12.3" fill="#fff" stroke="#2196f3" stroke-width="1"/>
<text transform="translate(329.57,634.85) scale(0.78,1)" text-anchor="middle" font-family="Liberation Sans, sans-serif" font-size="13" fill="#2196f3" stroke="#2196f3" stroke-width="0.35">D</text>
<circle cx="337.01" cy="629.9" r="12.3" fill="#fff" stroke="#f08c8e" stroke-width="1"/>
<text transform="translate(337.01,634.85) scale(0.78,1)" text-anchor="middle" font-family="Liberation Sans, sans-serif" font-size="13" fill="#e3304a" stroke="#e3304a" stroke-width="0.35">E</text>
<circle cx="377.96" cy="629.9" r="12.3" fill="#fff" stroke="#2196f3" stroke-width="1"/>
<text transform="translate(377.96,634.85) scale(0.78,1)" text-anchor="middle" font-family="Liberation Sans, sans-serif" font-size="13" fill="#2196f3" stroke="#2196f3" stroke-width="0.35">D</text>
<circle cx="385.4" cy="629.9" r="12.3" fill="#fff" stroke="#f08c8e" stroke-width="1"/>
<text transform="translate(385.4,634.85) scale(0.78,1)" text-anchor="middle" font-family="Liberation Sans, sans-serif" font-size="13" fill="#e3304a" stroke="#e3304a" stroke-width="0.35">E</text>
<circle cx="426.34" cy="629.9" r="12.3" fill="#fff" stroke="#2196f3" stroke-width="1"/>
<text transform="translate(426.34,634.85) scale(0.78,1)" text-anchor="middle" font-family="Liberation Sans, sans-serif" font-size="13" fill="#2196f3" stroke="#2196f3" stroke-width="0.35">D</text>
<circle cx="433.79" cy="629.9" r="12.3" fill="#fff" stroke="#f08c8e" stroke-width="1"/>
<text transform="translate(433.79,634.85) scale(0.78,1)" text-anchor="middle" font-family="Liberation Sans, sans-serif" font-size="13" fill="#e3304a" stroke="#e3304a" stroke-width="0.35">E</text>
<circle cx="474.73" cy="629.9" r="12.3" fill="#fff" stroke="#2196f3" stroke-width="1"/>
<text transform="translate(474.73,634.85) scale(0.78,1)" text-anchor="middle" font-family="Liberation Sans, sans-serif" font-size="13" fill="#2196f3" stroke="#2196f3" stroke-width="0.35">D</text>
<circle cx="482.18" cy="629.9" r="12.3" fill="#fff" stroke="#f08c8e" stroke-width="1"/>
<text transform="translate(482.18,634.85) scale(0.78,1)" text-anchor="middle" font-family="Liberation Sans, sans-serif" font-size="13" fill="#e3304a" stroke="#e3304a" stroke-width="0.35">E</text>
<circle cx="523.12" cy="629.9" r="12.3" fill="#fff" stroke="#2196f3" stroke-width="1"/>
<text transform="translate(523.12,634.85) scale(0.78,1)" text-anchor="middle" font-family="Liberation Sans, sans-serif" font-size="13" fill="#2196f3" stroke="#2196f3" stroke-width="0.35">D</text>
<circle cx="530.56" cy="629.9" r="12.3" fill="#fff" stroke="#f08c8e" stroke-width="1"/>
<text transform="translate(530.56,634.85) scale(0.78,1)" text-anchor="middle" font-family="Liberation Sans, sans-serif" font-size="13" fill="#e3304a" stroke="#e3304a" stroke-width="0.35">E</text>
<circle cx="571.51" cy="629.9" r="12.3" fill="#fff" stroke="#2196f3" stroke-width="1"/>
<text transform="translate(571.51,634.85) scale(0.78,1)" text-anchor="middle" font-family="Liberation Sans, sans-serif" font-size="13" fill="#2196f3" stroke="#2196f3" stroke-width="0.35">D</text>
<circle cx="578.95" cy="629.9" r="12.3" fill="#fff" stroke="#f08c8e" stroke-width="1"/>
<text transform="translate(578.95,634.85) scale(0.78,1)" text-anchor="middle" font-family="Liberation Sans, sans-serif" font-size="13" fill="#e3304a" stroke="#e3304a" stroke-width="0.35">E</text>
<circle cx="619.9" cy="629.9" r="12.3" fill="#fff" stroke="#2196f3" stroke-width="1"/>
<text transform="translate(619.9,634.85) scale(0.78,1)" text-anchor="middle" font-family="Liberation Sans, sans-serif" font-size="13" fill="#2196f3" stroke="#2196f3" stroke-width="0.35">D</text>
<circle cx="627.34" cy="629.9" r="12.3" fill="#fff" stroke="#f08c8e" stroke-width="1"/>
<text transform="translate(627.34,634.85) scale(0.78,1)" text-anchor="middle" font-family="Liberation Sans, sans-serif" font-size="13" fill="#e3304a" stroke="#e3304a" stroke-width="0.35">E</text>
<circle cx="668.28" cy="629.9" r="12.3" fill="#fff" stroke="#2196f3" stroke-width="1"/>
<text transform="translate(668.28,634.85) scale(0.78,1)" text-anchor="middle" font-family="Liberation Sans, sans-serif" font-size="13" fill="#2196f3" stroke="#2196f3" stroke-width="0.35">D</text>
<circle cx="675.73" cy="629.9" r="12.3" fill="#fff" stroke="#f08c8e" stroke-width="1"/>
<text transform="translate(675.73,634.85) scale(0.78,1)" text-anchor="middle" font-family="Liberation Sans, sans-serif" font-size="13" fill="#e3304a" stroke="#e3304a" stroke-width="0.35">E</text>
<circle cx="716.67" cy="629.9" r="12.3" fill="#fff" stroke="#2196f3" stroke-width="1"/>
<text transform="translate(716.67,634.85) scale(0.78,1)" text-anchor="middle" font-family="Liberation Sans, sans-serif" font-size="13" fill="#2196f3" stroke="#2196f3" stroke-width="0.35">D</text>
<circle cx="724.12" cy="629.9" r="12.3" fill="#fff" stroke="#f08c8e" stroke-width="1"/>
<text transform="translate(724.12,634.85) scale(0.78,1)" text-anchor="middle" font-family="Liberation Sans, sans-serif" font-size="13" fill="#e3304a" stroke="#e3304a" stroke-width="0.35">E</text>
<circle cx="765.06" cy="629.9" r="12.3" fill="#fff" stroke="#2196f3" stroke-width="1"/>
<text transform="translate(765.06,634.85) scale(0.78,1)" text-anchor="middle" font-family="Liberation Sans, sans-serif" font-size="13" fill="#2196f3" stroke="#2196f3" stroke-width="0.35">D</text>
<circle cx="772.5" cy="629.9" r="12.3" fill="#fff" stroke="#f08c8e" stroke-width="1"/>
<text transform="translate(772.5,634.85) scale(0.78,1)" text-anchor="middle" font-family="Liberation Sans, sans-serif" font-size="13" fill="#e3304a" stroke="#e3304a" stroke-width="0.35">E</text>
<circle cx="813.45" cy="629.9" r="12.3" fill="#fff" stroke="#2196f3" stroke-width="1"/>
<text transform="translate(813.45,634.85) scale(0.78,1)" text-anchor="middle" font-family="Liberation Sans, sans-serif" font-size="13" fill="#2196f3" stroke="#2196f3" stroke-width="0.35">D</text>
<circle cx="820.89" cy="629.9" r="12.3" fill="#fff" stroke="#f08c8e" stroke-width="1"/>
<text transform="translate(820.89,634.85) scale(0.78,1)" text-anchor="middle" font-family="Liberation Sans, sans-serif" font-size="13" fill="#e3304a" stroke="#e3304a" stroke-width="0.35">E</text>
<circle cx="861.84" cy="629.9" r="12.3" fill="#fff" stroke="#2196f3" stroke-width="1"/>
<text transform="translate(861.84,634.85) scale(0.78,1)" text-anchor="middle" font-family="Liberation Sans, sans-serif" font-size="13" fill="#2196f3" stroke="#2196f3" stroke-width="0.35">D</text>
<circle cx="873" cy="629.9" r="12.3" fill="#fff" stroke="#f08c8e" stroke-width="1"/>
<text transform="translate(873,634.85) scale(0.78,1)" text-anchor="middle" font-family="Liberation Sans, sans-serif" font-size="13" fill="#e3304a" stroke="#e3304a" stroke-width="0.35">E</text>
<circle cx="913.95" cy="629.9" r="12.3" fill="#fff" stroke="#2196f3" stroke-width="1"/>
<text transform="translate(913.95,634.85) scale(0.78,1)" text-anchor="middle" font-family="Liberation Sans, sans-serif" font-size="13" fill="#2196f3" stroke="#2196f3" stroke-width="0.35">D</text>
<circle cx="917.67" cy="629.9" r="12.3" fill="#fff" stroke="#f08c8e" stroke-width="1"/>
<text transform="translate(917.67,634.85) scale(0.78,1)" text-anchor="middle" font-family="Liberation Sans, sans-serif" font-size="13" fill="#e3304a" stroke="#e3304a" stroke-width="0.35">E</text>
<circle cx="958.61" cy="629.9" r="12.3" fill="#fff" stroke="#2196f3" stroke-width="1"/>
<text transform="translate(958.61,634.85) scale(0.78,1)" text-anchor="middle" font-family="Liberation Sans, sans-serif" font-size="13" fill="#2196f3" stroke="#2196f3" stroke-width="0.35">D</text>
<circle cx="966.06" cy="629.9" r="12.3" fill="#fff" stroke="#f08c8e" stroke-width="1"/>
<text transform="translate(966.06,634.85) scale(0.78,1)" text-anchor="middle" font-family="Liberation Sans, sans-serif" font-size="13" fill="#e3304a" stroke="#e3304a" stroke-width="0.35">E</text>
<circle cx="1007" cy="629.9" r="12.3" fill="#fff" stroke="#2196f3" stroke-width="1"/>
<text transform="translate(1007,634.85) scale(0.78,1)" text-anchor="middle" font-family="Liberation Sans, sans-serif" font-size="13" fill="#2196f3" stroke="#2196f3" stroke-width="0.35">D</text>
<circle cx="1014.44" cy="629.9" r="12.3" fill="#fff" stroke="#f08c8e" stroke-width="1"/>
<text transform="translate(1014.44,634.85) scale(0.78,1)" text-anchor="middle" font-family="Liberation Sans, sans-serif" font-size="13" fill="#e3304a" stroke="#e3304a" stroke-width="0.35">E</text>
</g>
<rect x="6.5" y="43.5" width="1063" height="629" fill="none" stroke="#4c4c4c" stroke-width="1"/>
<line x1="1019.5" x2="1019.5" y1="43" y2="672" stroke="#4c4c4c" stroke-width="1"/>
<line x1="6" x2="1069" y1="645.5" y2="645.5" stroke="#4c4c4c" stroke-width="1"/>
<line x1="1020" x2="1024" y1="631.5" y2="631.5" stroke="#4c4c4c" stroke-width="1"/>
<text x="1028.3" y="636" font-family="Liberation Sans, sans-serif" font-size="11" fill="#4c4c4c" stroke="#4c4c4c" stroke-width="0.25">48.00</text>
<line x1="1020" x2="1024" y1="602.5" y2="602.5" stroke="#4c4c4c" stroke-width="1"/>
<text x="1028.3" y="607" font-family="Liberation Sans, sans-serif" font-size="11" fill="#4c4c4c" stroke="#4c4c4c" stroke-width="0.25">52.00</text>
<line x1="1020" x2="1024" y1="572.5" y2="572.5" stroke="#4c4c4c" stroke-width="1"/>
<text x="1028.3" y="577" font-family="Liberation Sans, sans-serif" font-size="11" fill="#4c4c4c" stroke="#4c4c4c" stroke-width="0.25">56.00</text>
<line x1="1020" x2="1024" y1="542.5" y2="542.5" stroke="#4c4c4c" stroke-width="1"/>
<text x="1028.3" y="547" font-family="Liberation Sans, sans-serif" font-size="11" fill="#4c4c4c" stroke="#4c4c4c" stroke-width="0.25">60.00</text>
<line x1="1020" x2="1024" y1="513.5" y2="513.5" stroke="#4c4c4c" stroke-width="1"/>
<text x="1028.3" y="518" font-family="Liberation Sans, sans-serif" font-size="11" fill="#4c4c4c" stroke="#4c4c4c" stroke-width="0.25">64.00</text>
<line x1="1020" x2="1024" y1="483.5" y2="483.5" stroke="#4c4c4c" stroke-width="1"/>
<text x="1028.3" y="488" font-family="Liberation Sans, sans-serif" font-size="11" fill="#4c4c4c" stroke="#4c4c4c" stroke-width="0.25">68.00</text>
<line x1="1020" x2="1024" y1="454.5" y2="454.5" stroke="#4c4c4c" stroke-width="1"/>
<text x="1028.3" y="459" font-family="Liberation Sans, sans-serif" font-size="11" fill="#4c4c4c" stroke="#4c4c4c" stroke-width="0.25">72.00</text>
<line x1="1020" x2="1024" y1="424.5" y2="424.5" stroke="#4c4c4c" stroke-width="1"/>
<text x="1028.3" y="429" font-family="Liberation Sans, sans-serif" font-size="11" fill="#4c4c4c" stroke="#4c4c4c" stroke-width="0.25">76.00</text>
<line x1="1020" x2="1024" y1="394.5" y2="394.5" stroke="#4c4c4c" stroke-width="1"/>
<text x="1028.3" y="399" font-family="Liberation Sans, sans-serif" font-size="11" fill="#4c4c4c" stroke="#4c4c4c" stroke-width="0.25">80.00</text>
<line x1="1020" x2="1024" y1="365.5" y2="365.5" stroke="#4c4c4c" stroke-width="1"/>
<text x="1028.3" y="370" font-family="Liberation Sans, sans-serif" font-size="11" fill="#4c4c4c" stroke="#4c4c4c" stroke-width="0.25">84.00</text>
<line x1="1020" x2="1024" y1="335.5" y2="335.5" stroke="#4c4c4c" stroke-width="1"/>
<text x="1028.3" y="340" font-family="Liberation Sans, sans-serif" font-size="11" fill="#4c4c4c" stroke="#4c4c4c" stroke-width="0.25">88.00</text>
<line x1="1020" x2="1024" y1="305.5" y2="305.5" stroke="#4c4c4c" stroke-width="1"/>
<text x="1028.3" y="310" font-family="Liberation Sans, sans-serif" font-size="11" fill="#4c4c4c" stroke="#4c4c4c" stroke-width="0.25">92.00</text>
<line x1="1020" x2="1024" y1="276.5" y2="276.5" stroke="#4c4c4c" stroke-width="1"/>
<text x="1028.3" y="281" font-family="Liberation Sans, sans-serif" font-size="11" fill="#4c4c4c" stroke="#4c4c4c" stroke-width="0.25">96.00</text>
<line x1="1020" x2="1024" y1="246.5" y2="246.5" stroke="#4c4c4c" stroke-width="1"/>
<text x="1028.3" y="251" font-family="Liberation Sans, sans-serif" font-size="11" fill="#4c4c4c" stroke="#4c4c4c" stroke-width="0.25">100.00</text>
<line x1="1020" x2="1024" y1="217.5" y2="217.5" stroke="#4c4c4c" stroke-width="1"/>
<text x="1028.3" y="222" font-family="Liberation Sans, sans-serif" font-size="11" fill="#4c4c4c" stroke="#4c4c4c" stroke-width="0.25">104.00</text>
<line x1="1020" x2="1024" y1="187.5" y2="187.5" stroke="#4c4c4c" stroke-width="1"/>
<text x="1028.3" y="192" font-family="Liberation Sans, sans-serif" font-size="11" fill="#4c4c4c" stroke="#4c4c4c" stroke-width="0.25">108.00</text>
<line x1="1020" x2="1024" y1="157.5" y2="157.5" stroke="#4c4c4c" stroke-width="1"/>
<text x="1028.3" y="162" font-family="Liberation Sans, sans-serif" font-size="11" fill="#4c4c4c" stroke="#4c4c4c" stroke-width="0.25">112.00</text>
<line x1="1020" x2="1024" y1="128.5" y2="128.5" stroke="#4c4c4c" stroke-width="1"/>
<text x="1028.3" y="133" font-family="Liberation Sans, sans-serif" font-size="11" fill="#4c4c4c" stroke="#4c4c4c" stroke-width="0.25">116.00</text>
<line x1="1020" x2="1024" y1="98.5" y2="98.5" stroke="#4c4c4c" stroke-width="1"/>
<text x="1028.3" y="103" font-family="Liberation Sans, sans-serif" font-size="11" fill="#4c4c4c" stroke="#4c4c4c" stroke-width="0.25">120.00</text>
<line x1="1020" x2="1024" y1="68.5" y2="68.5" stroke="#4c4c4c" stroke-width="1"/>
<text x="1028.3" y="73" font-family="Liberation Sans, sans-serif" font-size="11" fill="#4c4c4c" stroke="#4c4c4c" stroke-width="0.25">124.00</text>
<line x1="16.5" x2="16.5" y1="646" y2="650" stroke="#4c4c4c" stroke-width="1"/>
<text x="16.5" y="664" text-anchor="middle" font-family="Liberation Sans, sans-serif" font-size="11" fill="#4c4c4c" stroke="#4c4c4c" stroke-width="0.25">Jun</text>
<line x1="131.5" x2="131.5" y1="646" y2="650" stroke="#4c4c4c" stroke-width="1"/>
<text x="131.5" y="664" text-anchor="middle" font-family="Liberation Sans, sans-serif" font-size="11" fill="#4c4c4c" stroke="#4c4c4c" stroke-width="0.25">2015</text>
<line x1="209.5" x2="209.5" y1="646" y2="650" stroke="#4c4c4c" stroke-width="1"/>
<text x="209.5" y="664" text-anchor="middle" font-family="Liberation Sans, sans-serif" font-size="11" fill="#4c4c4c" stroke="#4c4c4c" stroke-width="0.25">Jun</text>
<line x1="325.5" x2="325.5" y1="646" y2="650" stroke="#4c4c4c" stroke-width="1"/>
<text x="325.5" y="664" text-anchor="middle" font-family="Liberation Sans, sans-serif" font-size="11" fill="#4c4c4c" stroke="#4c4c4c" stroke-width="0.25">2016</text>
<line x1="406.5" x2="406.5" y1="646" y2="650" stroke="#4c4c4c" stroke-width="1"/>
<text x="406.5" y="664" text-anchor="middle" font-family="Liberation Sans, sans-serif" font-size="11" fill="#4c4c4c" stroke="#4c4c4c" stroke-width="0.25">Jun</text>
<line x1="518.5" x2="518.5" y1="646" y2="650" stroke="#4c4c4c" stroke-width="1"/>
<text x="518.5" y="664" text-anchor="middle" font-family="Liberation Sans, sans-serif" font-size="11" fill="#4c4c4c" stroke="#4c4c4c" stroke-width="0.25">2017</text>
<line x1="600.5" x2="600.5" y1="646" y2="650" stroke="#4c4c4c" stroke-width="1"/>
<text x="600.5" y="664" text-anchor="middle" font-family="Liberation Sans, sans-serif" font-size="11" fill="#4c4c4c" stroke="#4c4c4c" stroke-width="0.25">Jun</text>
<line x1="712.5" x2="712.5" y1="646" y2="650" stroke="#4c4c4c" stroke-width="1"/>
<text x="712.5" y="664" text-anchor="middle" font-family="Liberation Sans, sans-serif" font-size="11" fill="#4c4c4c" stroke="#4c4c4c" stroke-width="0.25">2018</text>
<line x1="794.5" x2="794.5" y1="646" y2="650" stroke="#4c4c4c" stroke-width="1"/>
<text x="794.5" y="664" text-anchor="middle" font-family="Liberation Sans, sans-serif" font-size="11" fill="#4c4c4c" stroke="#4c4c4c" stroke-width="0.25">Jun</text>
<line x1="909.5" x2="909.5" y1="646" y2="650" stroke="#4c4c4c" stroke-width="1"/>
<text x="909.5" y="664" text-anchor="middle" font-family="Liberation Sans, sans-serif" font-size="11" fill="#4c4c4c" stroke="#4c4c4c" stroke-width="0.25">2019</text>
<line x1="987.5" x2="987.5" y1="646" y2="650" stroke="#4c4c4c" stroke-width="1"/>
<text x="987.5" y="664" text-anchor="middle" font-family="Liberation Sans, sans-serif" font-size="11" fill="#4c4c4c" stroke="#4c4c4c" stroke-width="0.25">Jun</text>
<rect x="1019" y="473" width="45" height="17" fill="#2196f3"/>
<line x1="1020" x2="1023" y1="481.5" y2="481.5" stroke="#fff" stroke-width="1"/>
<text x="1028.3" y="485" font-family="Liberation Sans, sans-serif" font-size="11" fill="#fff">68.33</text>
<text transform="translate(14.6,65) scale(0.958,1)" font-family="Liberation Sans, sans-serif" font-size="12.2" font-weight="bold" fill="#4a4a4a">ABBVIE INC, S, Cboe BZX</text>
<text x="15" y="81.5" font-family="Liberation Sans, sans-serif" font-size="12.5" fill="#4a4a4a">Vol. (20)</text>
</svg>
<svg width="1076" height="709" viewBox="0 0 1076 709" style="position:absolute;left:0;top:0">
<text x="6.20" y="17" font-family="Liberation Sans, sans-serif" font-size="12.25" fill="#000" textLength="54.30" lengthAdjust="spacingAndGlyphs">Publicado</text>
<text x="62.90" y="17" font-family="Liberation Sans, sans-serif" font-size="12.25" fill="#000" textLength="14.10" lengthAdjust="spacingAndGlyphs">en</text>
<text x="79.20" y="17" font-family="Liberation Sans, sans-serif" font-size="12.25" fill="#000" textLength="103.50" lengthAdjust="spacingAndGlyphs">TradingView.com,</text>
<text x="185.60" y="17" font-family="Liberation Sans, sans-serif" font-size="12.25" fill="#000" textLength="24.20" lengthAdjust="spacingAndGlyphs">Julio</text>
<text x="212.50" y="17" font-family="Liberation Sans, sans-serif" font-size="12.25" fill="#000" textLength="16.30" lengthAdjust="spacingAndGlyphs">18,</text>
<text x="231.10" y="17" font-family="Liberation Sans, sans-serif" font-size="12.25" fill="#000" textLength="30.90" lengthAdjust="spacingAndGlyphs">2019</text>
<text x="265.40" y="17" font-family="Liberation Sans, sans-serif" font-size="12.25" fill="#000" textLength="49.50" lengthAdjust="spacingAndGlyphs">20:13:52</text>
<text x="317.10" y="17" font-family="Liberation Sans, sans-serif" font-size="12.25" fill="#000" textLength="27.00" lengthAdjust="spacingAndGlyphs">CEST</text>
<text transform="translate(6.2,34) scale(0.973,1)" font-family="Liberation Sans, sans-serif" font-size="12.4" font-weight="bold" fill="#000">BATS:ABBV, W</text>
<text x="98" y="34" font-family="Liberation Sans, sans-serif" font-size="12.9" fill="#000">68.33</text>
<polygon points="138.5,24 144,35 133,35" fill="#00a000"/>
<text x="146.6" y="34" font-family="Liberation Sans, sans-serif" font-size="12.6" fill="#000">+0.01 (+0.01%)</text>
<text x="236" y="34" font-family="Liberation Sans, sans-serif" font-size="12.6" font-weight="bold" fill="#000">O:</text>
<text x="250.4" y="34" font-family="Liberation Sans, sans-serif" font-size="12.9" fill="#0fa50f">70.31</text>
<text x="286.1" y="34" font-family="Liberation Sans, sans-serif" font-size="12.6" font-weight="bold" fill="#000">H:</text>
<text x="300" y="34" font-family="Liberation Sans, sans-serif" font-size="12.9" fill="#0fa50f">71.02</text>
<text x="336.3" y="34" font-family="Liberation Sans, sans-serif" font-size="12.6" font-weight="bold" fill="#000">L:</text>
<text x="347" y="34" font-family="Liberation Sans, sans-serif" font-size="12.9" fill="#0fa50f">68.00</text>
<text x="382.6" y="34" font-family="Liberation Sans, sans-serif" font-size="12.6" font-weight="bold" fill="#000">C:</text>
<text x="394.8" y="34" font-family="Liberation Sans, sans-serif" font-size="12.9" fill="#0fa50f">68.33</text>
<text x="5.8" y="696" font-family="Liberation Sans, sans-serif" font-size="12.4" fill="#000">Creado con</text>
<g fill="#5bc2e8"><circle cx="76.6" cy="693.2" r="4.5"/><circle cx="83.2" cy="689.6" r="6"/><circle cx="91.9" cy="694" r="3.7"/><rect x="76.6" y="692" width="15.3" height="5.7"/><path d="M85 684.5 L92.5 688.2 L92.5 692 L86 692Z"/></g>
<polyline points="71.5,697.6 80.6,689.6 86,695.9 93.5,687.6" fill="none" stroke="#fff" stroke-width="1.7" stroke-linejoin="miter"/>
<text x="95.6" y="696" font-family="Liberation Sans, sans-serif" font-size="13" fill="#45ade3">TradingView</text>
</svg>
</body></html>
